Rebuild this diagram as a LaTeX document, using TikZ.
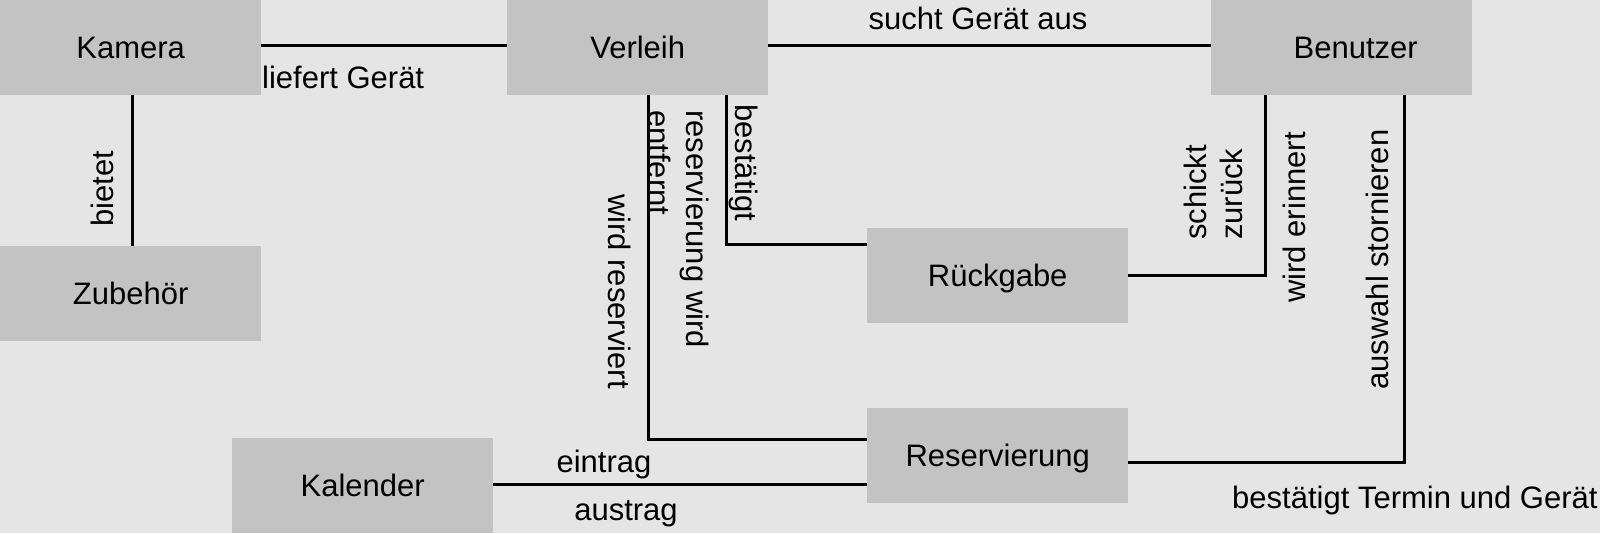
\documentclass[tikz,border=0pt]{standalone}
\usepackage{fontspec}
\setmainfont{Liberation Sans}
\definecolor{bgcol}{HTML}{E5E5E5}
\definecolor{boxgray}{HTML}{C3C3C3}
\newcommand\lblfont{\fontsize{31pt}{37pt}\selectfont}
\tikzset{
  ent/.style={fill=boxgray, draw=none, minimum width=261pt, minimum height=95pt,
    inner sep=0pt, text height=22pt, text depth=0pt, font=\lblfont, anchor=north west},
  conn/.style={line width=3pt, line join=miter, draw=black},
  lab/.style={inner sep=0pt, font=\lblfont},
}
\begin{document}
\begin{tikzpicture}[x=1pt, y=-1pt]
\fill[bgcol] (0,0) rectangle (1600,533);
\useasboundingbox (0,0) rectangle (1600,533);

% entities
\node[ent] (kamera) at (0,0) {Kamera};
\node[ent] (verleih) at (507,0) {Verleih};
\node[ent] (benutzer) at (1211,0) {\hspace*{28pt}Benutzer};
\node[ent] (zubehoer) at (0,246) {Zubehör};
\node[ent] (rueckgabe) at (867,228) {Rückgabe};
\node[ent] (reservierung) at (867,408) {Reservierung};
\node[ent] (kalender) at (232,438) {Kalender};

% connectors
\draw[conn] ([yshift=2.5pt]kamera.east) -- ([yshift=2.5pt]verleih.west);
\draw[conn] ([yshift=2.5pt]verleih.east) -- ([yshift=2.5pt]benutzer.west);
\draw[conn] ([xshift=1.5pt]kamera.south) -- ([xshift=1.5pt]zubehoer.north);
\draw[conn] ([xshift=10.5pt]verleih.south) |- ([yshift=16.5pt]reservierung.west);
\draw[conn] ([xshift=88.5pt]verleih.south) |- ([yshift=31pt]rueckgabe.west);
\draw[conn] (rueckgabe.east) -| ([xshift=-76pt]benutzer.south);
\draw[conn] ([yshift=-7pt]reservierung.east) -| ([xshift=62.5pt]benutzer.south);
\draw[conn] ([yshift=1.5pt]kalender.east) -- ([yshift=1.5pt]kalender.east -| reservierung.west);

% labels
\node[lab, anchor=base west] (lLiefert) at (262,88) {liefert Gerät};
\node[lab, anchor=base] (lSucht) at (978,29.5) {sucht Gerät aus};
\node[lab, rotate=90, anchor=base] (lBietet) at (113,189) {bietet};
\node[lab, rotate=-90, anchor=base] (lWirdRes) at (608,291.5) {wird reserviert};
\node[lab, rotate=-90, anchor=base west] (lResWird) at (686,110) {reservierung wird};
\node[lab, rotate=-90, anchor=base west] (lEntfernt) at (648,110) {entfernt};
\node[lab, rotate=-90, anchor=base west] (lBestaetigt) at (735.5,104) {bestätigt};
\node[lab, rotate=90, anchor=base west] (lSchickt) at (1206,240) {schickt};
\node[lab, rotate=90, anchor=base west] (lZurueck) at (1242,240) {zurück};
\node[lab, rotate=90, anchor=base west] (lErinnert) at (1305,303) {wird erinnert};
\node[lab, rotate=90, anchor=base west] (lStorno) at (1388,390) {auswahl stornieren};
\node[lab, anchor=base west] (lTermin) at (1232,508) {bestätigt Termin und Gerät};
\node[lab, anchor=base] (lEintrag) at (604,472) {eintrag};
\node[lab, anchor=base] (lAustrag) at (626,520.5) {austrag};
\end{tikzpicture}
\end{document}
